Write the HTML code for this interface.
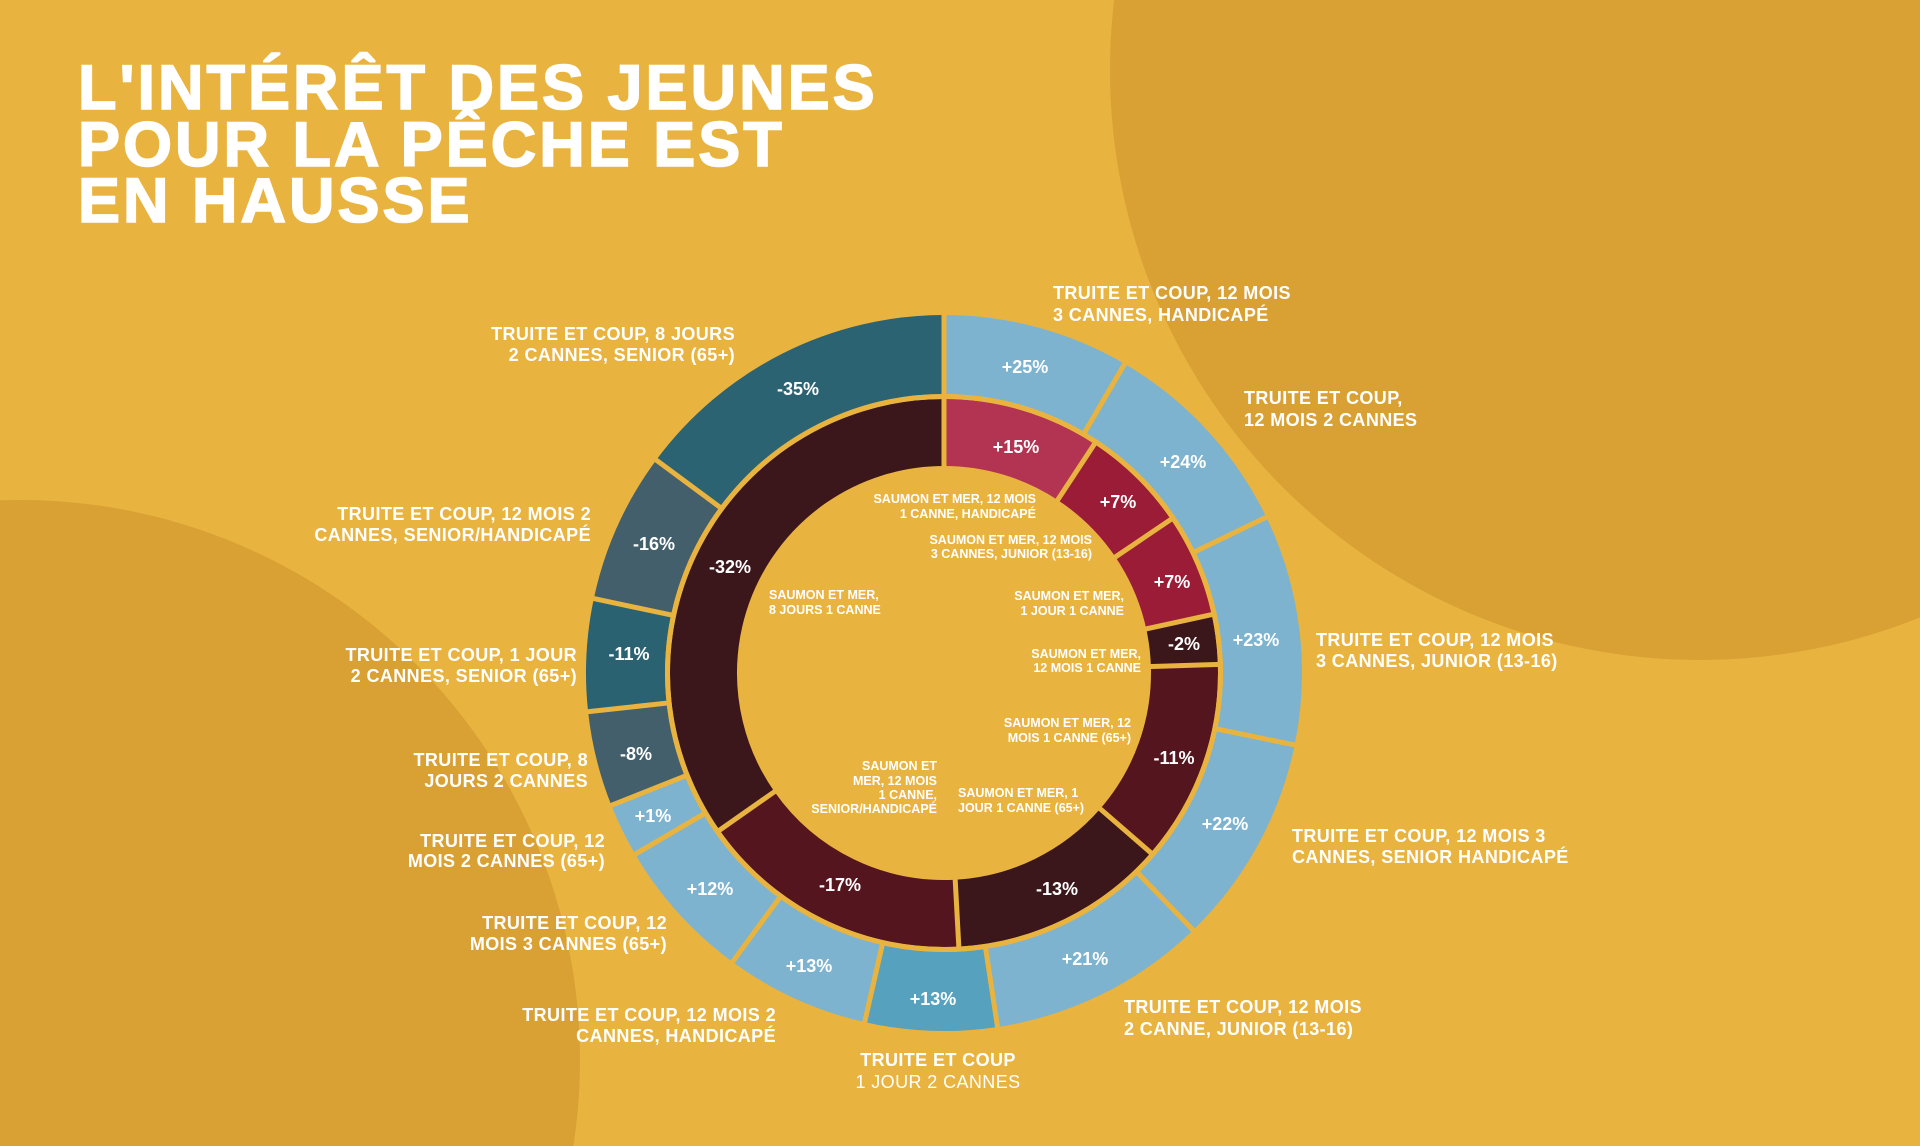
<!DOCTYPE html>
<html><head><meta charset="utf-8"><style>
html,body{margin:0;padding:0;background:#e9b33f;width:1920px;height:1146px;overflow:hidden;}
svg{display:block;}
text{font-family:"Liberation Sans",sans-serif;fill:#fff;font-weight:bold;}
</style></head><body>
<svg width="1920" height="1146" viewBox="0 0 1920 1146" xmlns="http://www.w3.org/2000/svg">
<rect width="1920" height="1146" fill="#e9b33f"/>
<circle cx="1700" cy="70" r="590" fill="#d9a034"/>
<circle cx="20" cy="1060" r="560" fill="#d9a034"/>

<g font-size="63" letter-spacing="3" style="stroke:#fff;stroke-width:1.6">
<text x="78" y="109">L'INTÉRÊT DES JEUNES</text>
<text x="78" y="166">POUR LA PÊCHE EST</text>
<text x="78" y="222">EN HAUSSE</text>
</g>

<g fill="none" stroke-width="79">
<circle cx="944" cy="673" r="318.5" pathLength="360" stroke="#7db3cf" stroke-dasharray="30.3 400" transform="rotate(-90 944 673)"/>
<circle cx="944" cy="673" r="318.5" pathLength="360" stroke="#7db3cf" stroke-dasharray="33.9 400" transform="rotate(-59.7 944 673)"/>
<circle cx="944" cy="673" r="318.5" pathLength="360" stroke="#7db3cf" stroke-dasharray="37.4 400" transform="rotate(-25.8 944 673)"/>
<circle cx="944" cy="673" r="318.5" pathLength="360" stroke="#7db3cf" stroke-dasharray="34.3 400" transform="rotate(11.6 944 673)"/>
<circle cx="944" cy="673" r="318.5" pathLength="360" stroke="#7db3cf" stroke-dasharray="35.5 400" transform="rotate(45.9 944 673)"/>
<circle cx="944" cy="673" r="318.5" pathLength="360" stroke="#56a1bd" stroke-dasharray="21.4 400" transform="rotate(81.4 944 673)"/>
<circle cx="944" cy="673" r="318.5" pathLength="360" stroke="#7db3cf" stroke-dasharray="23.4 400" transform="rotate(102.8 944 673)"/>
<circle cx="944" cy="673" r="318.5" pathLength="360" stroke="#7db3cf" stroke-dasharray="23.4 400" transform="rotate(126.2 944 673)"/>
<circle cx="944" cy="673" r="318.5" pathLength="360" stroke="#7db3cf" stroke-dasharray="8.7 400" transform="rotate(149.6 944 673)"/>
<circle cx="944" cy="673" r="318.5" pathLength="360" stroke="#435f6b" stroke-dasharray="15.5 400" transform="rotate(158.3 944 673)"/>
<circle cx="944" cy="673" r="318.5" pathLength="360" stroke="#2a6272" stroke-dasharray="18.2 400" transform="rotate(173.8 944 673)"/>
<circle cx="944" cy="673" r="318.5" pathLength="360" stroke="#435f6b" stroke-dasharray="24.5 400" transform="rotate(192 944 673)"/>
<circle cx="944" cy="673" r="318.5" pathLength="360" stroke="#2c6373" stroke-dasharray="53.5 400" transform="rotate(216.5 944 673)"/>
</g>
<g fill="none" stroke-width="67">
<circle cx="944" cy="673" r="240.5" pathLength="360" stroke="#b23352" stroke-dasharray="33.3 400" transform="rotate(-90 944 673)"/>
<circle cx="944" cy="673" r="240.5" pathLength="360" stroke="#9b1c36" stroke-dasharray="22.6 400" transform="rotate(-56.7 944 673)"/>
<circle cx="944" cy="673" r="240.5" pathLength="360" stroke="#9b1c36" stroke-dasharray="21.8 400" transform="rotate(-34.1 944 673)"/>
<circle cx="944" cy="673" r="240.5" pathLength="360" stroke="#3b171c" stroke-dasharray="10.5 400" transform="rotate(-12.3 944 673)"/>
<circle cx="944" cy="673" r="240.5" pathLength="360" stroke="#55151f" stroke-dasharray="42.8 400" transform="rotate(-1.8 944 673)"/>
<circle cx="944" cy="673" r="240.5" pathLength="360" stroke="#3b171c" stroke-dasharray="45.9 400" transform="rotate(41 944 673)"/>
<circle cx="944" cy="673" r="240.5" pathLength="360" stroke="#55151f" stroke-dasharray="58.1 400" transform="rotate(86.9 944 673)"/>
<circle cx="944" cy="673" r="240.5" pathLength="360" stroke="#3b171c" stroke-dasharray="125 400" transform="rotate(145 944 673)"/>
</g>
<g stroke="#e9b33f" stroke-width="5">
<line x1="944" y1="312" x2="944" y2="397" transform="rotate(0 944 673)"/>
<line x1="944" y1="312" x2="944" y2="397" transform="rotate(30.3 944 673)"/>
<line x1="944" y1="312" x2="944" y2="397" transform="rotate(64.2 944 673)"/>
<line x1="944" y1="312" x2="944" y2="397" transform="rotate(101.6 944 673)"/>
<line x1="944" y1="312" x2="944" y2="397" transform="rotate(135.9 944 673)"/>
<line x1="944" y1="312" x2="944" y2="397" transform="rotate(171.4 944 673)"/>
<line x1="944" y1="312" x2="944" y2="397" transform="rotate(192.8 944 673)"/>
<line x1="944" y1="312" x2="944" y2="397" transform="rotate(216.2 944 673)"/>
<line x1="944" y1="312" x2="944" y2="397" transform="rotate(239.6 944 673)"/>
<line x1="944" y1="312" x2="944" y2="397" transform="rotate(248.3 944 673)"/>
<line x1="944" y1="312" x2="944" y2="397" transform="rotate(263.8 944 673)"/>
<line x1="944" y1="312" x2="944" y2="397" transform="rotate(282 944 673)"/>
<line x1="944" y1="312" x2="944" y2="397" transform="rotate(306.5 944 673)"/>
<line x1="944" y1="397" x2="944" y2="469" transform="rotate(0 944 673)"/>
<line x1="944" y1="397" x2="944" y2="469" transform="rotate(33.3 944 673)"/>
<line x1="944" y1="397" x2="944" y2="469" transform="rotate(55.9 944 673)"/>
<line x1="944" y1="397" x2="944" y2="469" transform="rotate(77.7 944 673)"/>
<line x1="944" y1="397" x2="944" y2="469" transform="rotate(88.2 944 673)"/>
<line x1="944" y1="397" x2="944" y2="469" transform="rotate(131 944 673)"/>
<line x1="944" y1="397" x2="944" y2="469" transform="rotate(176.9 944 673)"/>
<line x1="944" y1="397" x2="944" y2="469" transform="rotate(235 944 673)"/>
</g>
<circle cx="944" cy="673" r="276.5" fill="none" stroke="#e9b33f" stroke-width="5"/>

<g font-size="18" text-anchor="middle">
<text x="1025" y="373">+25%</text>
<text x="1183" y="468">+24%</text>
<text x="1256" y="646">+23%</text>
<text x="1225" y="830">+22%</text>
<text x="1085" y="965">+21%</text>
<text x="933" y="1005">+13%</text>
<text x="809" y="972">+13%</text>
<text x="710" y="895">+12%</text>
<text x="653" y="822">+1%</text>
<text x="636" y="760">-8%</text>
<text x="629" y="660">-11%</text>
<text x="654" y="550">-16%</text>
<text x="798" y="395">-35%</text>
<text x="1016" y="453">+15%</text>
<text x="1118" y="508">+7%</text>
<text x="1172" y="588">+7%</text>
<text x="1184" y="650">-2%</text>
<text x="1174" y="764">-11%</text>
<text x="1057" y="895">-13%</text>
<text x="840" y="891">-17%</text>
<text x="730" y="573">-32%</text>
</g>

<g font-size="18" letter-spacing="0.4">
<text x="1053" y="299">TRUITE ET COUP, 12 MOIS</text>
<text x="1053" y="321">3 CANNES, HANDICAPÉ</text>
<text x="1244" y="404">TRUITE ET COUP,</text>
<text x="1244" y="426">12 MOIS 2 CANNES</text>
<text x="1316" y="646">TRUITE ET COUP, 12 MOIS</text>
<text x="1316" y="667">3 CANNES, JUNIOR (13-16)</text>
<text x="1292" y="842">TRUITE ET COUP, 12 MOIS 3</text>
<text x="1292" y="863">CANNES, SENIOR HANDICAPÉ</text>
<text x="1124" y="1013">TRUITE ET COUP, 12 MOIS</text>
<text x="1124" y="1035">2 CANNE, JUNIOR (13-16)</text>
<text x="938" y="1066" text-anchor="middle">TRUITE ET COUP</text>
<text x="938" y="1088" text-anchor="middle" style="font-weight:normal">1 JOUR 2 CANNES</text>
</g>
<g font-size="18" letter-spacing="0.4" text-anchor="end">
<text x="776" y="1021">TRUITE ET COUP, 12 MOIS 2</text>
<text x="776" y="1042">CANNES, HANDICAPÉ</text>
<text x="667" y="929">TRUITE ET COUP, 12</text>
<text x="667" y="950">MOIS 3 CANNES (65+)</text>
<text x="605" y="847">TRUITE ET COUP, 12</text>
<text x="605" y="867">MOIS 2 CANNES (65+)</text>
<text x="588" y="766">TRUITE ET COUP, 8</text>
<text x="588" y="787">JOURS 2 CANNES</text>
<text x="577" y="661">TRUITE ET COUP, 1 JOUR</text>
<text x="577" y="682">2 CANNES, SENIOR (65+)</text>
<text x="591" y="520">TRUITE ET COUP, 12 MOIS 2</text>
<text x="591" y="541">CANNES, SENIOR/HANDICAPÉ</text>
<text x="735" y="340">TRUITE ET COUP, 8 JOURS</text>
<text x="735" y="361">2 CANNES, SENIOR (65+)</text>
</g>

<g font-size="12.5" text-anchor="end">
<text x="1036" y="503">SAUMON ET MER, 12 MOIS</text>
<text x="1036" y="518">1 CANNE, HANDICAPÉ</text>
<text x="1092" y="544">SAUMON ET MER, 12 MOIS</text>
<text x="1092" y="558">3 CANNES, JUNIOR (13-16)</text>
<text x="1124" y="600">SAUMON ET MER,</text>
<text x="1124" y="615">1 JOUR 1 CANNE</text>
<text x="1141" y="658">SAUMON ET MER,</text>
<text x="1141" y="672">12 MOIS 1 CANNE</text>
<text x="1131" y="727">SAUMON ET MER, 12</text>
<text x="1131" y="742">MOIS 1 CANNE (65+)</text>
<text x="937" y="770">SAUMON ET</text>
<text x="937" y="785">MER, 12 MOIS</text>
<text x="937" y="799">1 CANNE,</text>
<text x="937" y="813">SENIOR/HANDICAPÉ</text>
</g>
<g font-size="12.5">
<text x="769" y="599">SAUMON ET MER,</text>
<text x="769" y="614">8 JOURS 1 CANNE</text>
<text x="958" y="797">SAUMON ET MER, 1</text>
<text x="958" y="812">JOUR 1 CANNE (65+)</text>
</g>
</svg>
</body></html>
